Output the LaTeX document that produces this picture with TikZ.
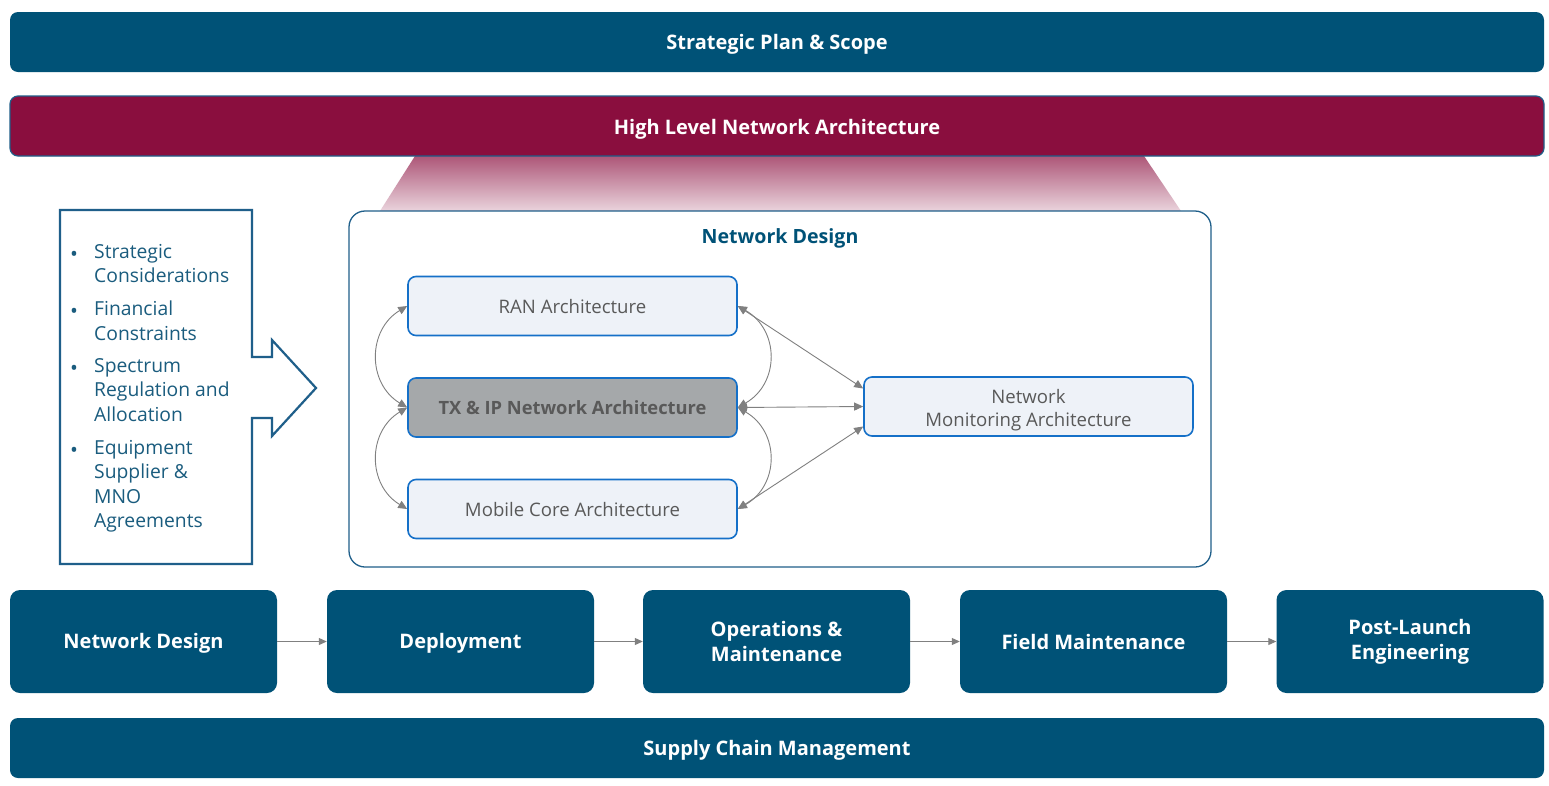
\documentclass[tikz,border=0pt]{standalone}
\usepackage{fontspec}
\setmainfont{Open Sans}
\usetikzlibrary{arrows.meta,calc}
\definecolor{teal}{HTML}{005277}
\definecolor{crim}{HTML}{8A0E3E}
\definecolor{edgeblue}{HTML}{1F5F8A}
\definecolor{boxblue}{HTML}{1570C8}
\definecolor{boxfill}{HTML}{EEF2F8}
\definecolor{txfill}{HTML}{A5A8AA}
\definecolor{txtgray}{HTML}{595959}
\definecolor{arrgray}{HTML}{808080}
\definecolor{listc}{HTML}{1A5C7E}
\newcommand{\dn}[2][-2pt]{\raisebox{#1}[\height][\depth]{#2}}
\tikzset{
  bar/.style={fill=teal, rounded corners=8pt, minimum width=1534pt, minimum height=60pt, text=white, font=\fontsize{20}{24}\selectfont\bfseries, inner sep=0pt},
  inbox/.style={draw=boxblue, line width=1.6pt, fill=boxfill, rounded corners=8pt, minimum width=329pt, minimum height=59pt, text=txtgray, font=\fontsize{18.6}{23}\selectfont, align=center, inner sep=0pt},
  stage/.style={fill=teal, rounded corners=10pt, minimum width=267pt, minimum height=103pt, text=white, font=\fontsize{20}{25}\selectfont\bfseries, align=center, inner sep=0pt},
  dbl/.style={arrgray, line width=0.9pt, {Triangle[length=9pt,width=8pt]}-{Triangle[length=9pt,width=8pt]}},
  flow/.style={arrgray, line width=1pt, -{Triangle[length=8pt,width=7pt]}},
  litem/.style={anchor=north west, inner sep=0pt, align=left, text=listc, font=\fontsize{19.3}{24.5}\selectfont},
  bul/.style={inner sep=0pt, text=listc, font=\fontsize{21}{24.5}\selectfont}
}
\begin{document}
\begin{tikzpicture}[x=1pt,y=-1pt]
\useasboundingbox (0,0) rectangle (1549,785);
\fill[white] (0,0) rectangle (1549,785);
% top bars
\node[bar] (plan) at (777,42) {\dn{Strategic Plan \& Scope}};
% gradient trapezoid
\shade[top color=crim!70!white, bottom color=crim!18!white] (415,156) -- (1144,156) -- (1181,211) -- (380,211) -- cycle;
\node[bar, fill=crim, draw=edgeblue, line width=1.2pt] (hlna) at (777,126) {\dn[-3pt]{High Level Network Architecture}};
% container
\node[draw=edgeblue, line width=1.3pt, fill=white, rounded corners=16pt, minimum width=862pt, minimum height=356pt, inner sep=0pt] (nd) at (780,389) {};
\node[text=teal, font=\fontsize{19.6}{24}\selectfont\bfseries, inner sep=0pt] (ndt) at (780,238) {Network Design};
% inner boxes
\node[inbox] (ran) at (572.5,306) {\dn[-1pt]{RAN Architecture}};
\node[inbox, fill=txfill, text=black!65, font=\fontsize{18.3}{23}\selectfont\bfseries] (tx) at (572.5,407.5) {TX \& IP Network Architecture};
\node[inbox] (core) at (572.5,509) {\dn[-1pt]{Mobile Core Architecture}};
\node[inbox] (nm) at (1028.5,406.5) {\dn[-4pt]{\parbox{300pt}{\centering Network\\Monitoring Architecture}}};
% connectors
\draw[dbl] (ran.west) .. controls +(-40,24) and +(-40,-24) .. (tx.west);
\draw[dbl] (tx.west) .. controls +(-40,24) and +(-40,-24) .. (core.west);
\draw[dbl] (ran.east) .. controls +(42,24) and +(42,-24) .. (tx.east);
\draw[dbl] (tx.east) .. controls +(42,24) and +(42,-24) .. (core.east);
\draw[dbl] (ran.east) -- ([yshift=18pt]nm.west);
\draw[dbl] (tx.east) -- (nm.west);
\draw[dbl] (core.east) -- ([yshift=-20pt]nm.west);
% left arrow box
\draw[edgeblue, line width=2.2pt, line join=miter, fill=white] (60,210) -- (252,210) -- (252,357) -- (272,357) -- (272,340) -- (316,388) -- (272,436) -- (272,418) -- (252,418) -- (252,564) -- (60,564) -- cycle;
\node[bul] (b1) at (74,256) {•};
\node[bul] (b2) at (74,313) {•};
\node[bul] (b3) at (74,370) {•};
\node[bul] (b4) at (74,452) {•};
\node[litem] (l1) at (94,244) {Strategic\\Considerations};
\node[litem] (l2) at (94,301) {Financial\\Constraints};
\node[litem] (l3) at (94,358) {Spectrum\\Regulation and\\Allocation};
\node[litem] (l4) at (94,440) {Equipment\\Supplier \&\\MNO\\Agreements};
% stages
\node[stage] (s1) at (143.5,641.5) {\dn{Network Design}};
\node[stage] (s2) at (460.5,641.5) {\dn{Deployment}};
\node[stage] (s3) at (776.5,641.5) {Operations \&\\Maintenance};
\node[stage] (s4) at (1093.5,641.5) {Field Maintenance};
\node[stage] (s5) at (1410,641.5) {Post-Launch\\Engineering};
\draw[flow] (s1) -- (s2);
\draw[flow] (s2) -- (s3);
\draw[flow] (s3) -- (s4);
\draw[flow] (s4) -- (s5);
\node[bar] (scm) at (777,748) {\dn{Supply Chain Management}};
\end{tikzpicture}
\end{document}
